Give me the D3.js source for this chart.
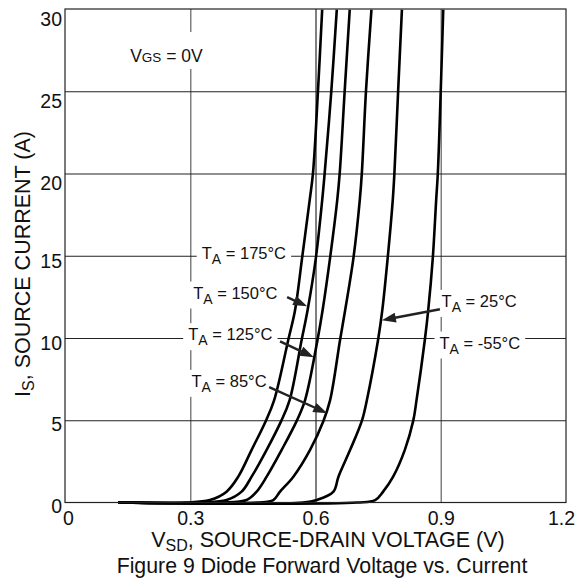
<!DOCTYPE html>
<html><head><meta charset="utf-8">
<script src="https://cdn.jsdelivr.net/npm/d3@7"></script>
<style>
body{margin:0;background:#fff}
svg{display:block}
text{font-family:"Liberation Sans",Arial,sans-serif;fill:#111}
</style>
</head><body>
<svg id="c" width="578" height="582"></svg>
<script>
// ---- data ----
const xTicks = [0, 0.3, 0.6, 0.9, 1.2];
const xTickLabels = ["0", "0.3", "0.6", "0.9", "1.2"];
const yTicks = [0, 5, 10, 15, 20, 25, 30];
const yTickLabels = ["0", "5", "10", "15", "20", "25", "30"];
const temps = ["175°C", "150°C", "125°C", "85°C", "25°C", "-55°C"];
// source current (A) sample points shared by all curves
const isCurrent = [0, 0, 0.15, 0.66, 1.57, 3.2, 4.96, 6.22, 9.91, 11.69, 14.89, 18.37, 20.02, 25.05, 29.96];
// source-drain voltage (V) for each temperature
const vsd175 = [0.127, 0.29, 0.347, 0.387, 0.415, 0.447, 0.481, 0.501, 0.535, 0.551, 0.568, 0.586, 0.594, 0.606, 0.616];
const vsd150 = [0.127, 0.33, 0.387, 0.423, 0.447, 0.483, 0.518, 0.538, 0.567, 0.581, 0.601, 0.616, 0.622, 0.638, 0.651];
const vsd125 = [0.127, 0.37, 0.435, 0.459, 0.483, 0.519, 0.555, 0.575, 0.605, 0.617, 0.635, 0.652, 0.658, 0.670, 0.682];
const vsd85  = [0.127, 0.46, 0.499, 0.515, 0.547, 0.587, 0.619, 0.635, 0.659, 0.671, 0.691, 0.706, 0.711, 0.721, 0.734];
const vsd25  = [0.127, 0.57, 0.603, 0.643, 0.655, 0.683, 0.711, 0.723, 0.750, 0.760, 0.773, 0.785, 0.789, 0.798, 0.807];
const vsdM55 = [0.127, 0.70, 0.743, 0.762, 0.786, 0.814, 0.834, 0.842, 0.862, 0.870, 0.881, 0.889, 0.893, 0.900, 0.906];
const seriesVsd = [vsd175, vsd150, vsd125, vsd85, vsd25, vsdM55];
// annotation anchors (data units)
const labelV = [0.3275, 0.307, 0.295, 0.303, 0.902, 0.897];
const labelI = [14.83, 12.40, 9.87, 7.03, 11.89, 9.36];
const arrowFrom = [null, [0.532, 12.48], [0.515, 9.8], [0.489, 7.01], [0.898, 11.75], null];
const arrowTo   = [null, [0.580, 11.93], [0.596, 8.83], [0.628, 5.43], [0.759, 11.08], null];

// ---- layout ----
const svg = d3.select("#c");
const L = 65, R = 566, T = 9, B = 502.5;
const x = d3.scaleLinear().domain([0, 1.2]).range([L, R]);
const y = d3.scaleLinear().domain([0, 30]).range([B, T]);
const FONT = '"Liberation Sans",Arial,sans-serif';

const gGrid = svg.append("g");
const gBox = svg.append("g");
const gCurve = svg.append("g");
const gFrame = svg.append("g");
const gText = svg.append("g");
const gArrow = svg.append("g");

// gridlines via axes
const xGrid = gGrid.append("g").attr("transform", `translate(0,${B})`)
  .call(d3.axisBottom(x).tickValues(xTicks).tickSize(-(B - T)).tickFormat(""));
xGrid.select(".domain").remove();
xGrid.selectAll(".tick line")
  .attr("stroke", d => d === 0.6 ? "#000" : "#808080")
  .attr("stroke-width", d => d === 0.6 ? 1 : 1.5)
  .attr("display", d => (d === 0 || d === 1.2) ? "none" : null);

const yGrid = gGrid.append("g").attr("transform", `translate(${L},0)`)
  .call(d3.axisLeft(y).tickValues(yTicks).tickSize(-(R - L)).tickFormat(""));
yGrid.select(".domain").remove();
yGrid.selectAll(".tick line")
  .attr("stroke", "#222").attr("stroke-width", 1.2)
  .attr("display", d => (d === 0 || d === 30) ? "none" : null);

// tick labels via axes
const xAx = gText.append("g").attr("transform", `translate(0,${B})`)
  .call(d3.axisBottom(x).tickValues(xTicks).tickSize(0)
    .tickFormat((d, i) => xTickLabels[i]));
xAx.select(".domain").remove();
xAx.selectAll("text").attr("font-size", 19.5).attr("font-family", FONT)
  .attr("fill", "#111").attr("y", 22).attr("dy", 0)
  .attr("dx", d => d === 0 ? 3 : (d === 1.2 ? -5 : 0));

const yAx = gText.append("g").attr("transform", `translate(${L},0)`)
  .call(d3.axisLeft(y).tickValues(yTicks).tickSize(0)
    .tickFormat((d, i) => yTickLabels[i]));
yAx.select(".domain").remove();
yAx.selectAll("text").attr("font-size", 19.5).attr("font-family", FONT)
  .attr("fill", "#111").attr("x", -3).attr("dy", 0)
  .attr("y", d => d >= 20 ? 16 : (d >= 10 ? 11.5 : 10));

// frame
gFrame.append("rect").attr("x", L).attr("y", T).attr("width", R - L).attr("height", B - T)
  .attr("fill", "none").attr("stroke", "#222").attr("stroke-width", 1.2);

// curves
const line = d3.line().x(d => x(d[0])).y(d => y(d[1])).curve(d3.curveCatmullRom.alpha(0.5));
seriesVsd.forEach(vs => {
  gCurve.append("path")
    .attr("d", line(vs.map((v, i) => [v, isCurrent[i]])))
    .attr("fill", "none").attr("stroke", "#000").attr("stroke-width", 2.6)
    .attr("stroke-linejoin", "round");
});

// temperature labels
function addBox(node, padX, padT, padB) {
  const bb = node.getBBox();
  gBox.append("rect").attr("x", bb.x - padX).attr("y", bb.y - padT)
    .attr("width", bb.width + 2 * padX).attr("height", bb.height + padT + padB)
    .attr("fill", "#fff");
}
temps.forEach((t, k) => {
  const tx = gText.append("text").attr("x", x(labelV[k])).attr("y", y(labelI[k]))
    .attr("font-size", 16.5).attr("xml:space", "preserve");
  tx.append("tspan").text("T");
  tx.append("tspan").attr("font-size", 14).attr("dy", 5).text("A");
  tx.append("tspan").attr("dy", -5).text(" = " + t);
  addBox(tx.node(), 5, 2, 2);
});

// VGS label
const vg = gText.append("text").attr("x", x(0.156)).attr("y", y(26.78)).attr("font-size", 17.5)
  .attr("xml:space", "preserve");
vg.append("tspan").text("V");
vg.append("tspan").attr("font-size", 13.5).text("GS");
vg.append("tspan").text(" = 0V");
addBox(vg.node(), 4, 14, 3);

// arrows
arrowFrom.forEach((f, k) => {
  if (!f) return;
  const p0 = [x(f[0]), y(f[1])], p1 = [x(arrowTo[k][0]), y(arrowTo[k][1])];
  const dx = p1[0] - p0[0], dy = p1[1] - p0[1], len = Math.hypot(dx, dy);
  const ux = dx / len, uy = dy / len, hl = 14, hw = 5;
  const bx = p1[0] - ux * hl, by = p1[1] - uy * hl;
  gArrow.append("line").attr("x1", p0[0]).attr("y1", p0[1])
    .attr("x2", bx + ux * 2).attr("y2", by + uy * 2)
    .attr("stroke", "#222").attr("stroke-width", 2.4);
  gArrow.append("path")
    .attr("d", `M${p1[0]},${p1[1]}L${bx - uy * hw},${by + ux * hw}L${bx + uy * hw},${by - ux * hw}Z`)
    .attr("fill", "#222");
});

// axis titles
const xt = svg.append("text").attr("x", 328).attr("y", 547).attr("text-anchor", "middle")
  .attr("font-size", 21.5);
xt.append("tspan").text("V");
xt.append("tspan").attr("font-size", 16).attr("dy", 4).text("SD");
xt.append("tspan").attr("dy", -4).text(", SOURCE-DRAIN VOLTAGE (V)");

const yt = svg.append("text").attr("transform", `translate(30,264) rotate(-90)`)
  .attr("text-anchor", "middle").attr("font-size", 21.5);
yt.append("tspan").text("I");
yt.append("tspan").attr("font-size", 16).attr("dy", 4).text("S");
yt.append("tspan").attr("dy", -4).text(", SOURCE CURRENT (A)");

svg.append("text").attr("x", 322).attr("y", 573).attr("text-anchor", "middle")
  .attr("font-size", 21.3).text("Figure 9 Diode Forward Voltage vs. Current");
</script>
</body></html>
